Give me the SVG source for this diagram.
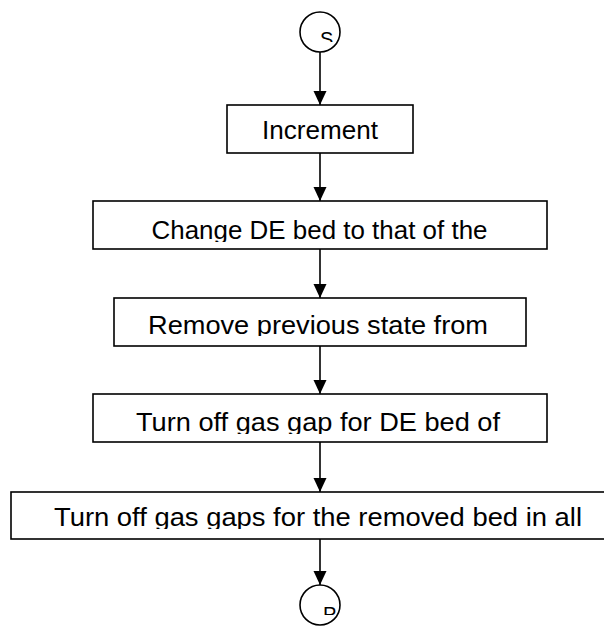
<svg xmlns="http://www.w3.org/2000/svg" width="604" height="628" viewBox="0 0 604 628">
<style>
.box{fill:#fff;stroke:#000;stroke-width:1.6}
.term{fill:#fff;stroke:#000;stroke-width:1.6}
.lbl{font-family:"Liberation Sans",Arial,sans-serif;font-size:26.5px;fill:#000;text-anchor:middle}
.sm{font-family:"Liberation Sans",Arial,sans-serif;font-size:20px;fill:#000}
.edge{stroke:#000;stroke-width:1.6;fill:none;marker-end:url(#arr)}
</style>
<defs>
<marker id="arr" markerWidth="13" markerHeight="14" refX="14" refY="6.5" orient="auto" markerUnits="userSpaceOnUse">
<path d="M0,0 L14,6.5 L0,13 z" fill="#000"/>
</marker>
<clipPath id="cS"><rect x="300" y="14" width="40" height="28"/></clipPath>
<clipPath id="cP"><rect x="300" y="588" width="40" height="27"/></clipPath>
<clipPath id="c2"><rect x="94" y="202" width="452" height="40"/></clipPath>
<clipPath id="c3"><rect x="115" y="299" width="410" height="37"/></clipPath>
<clipPath id="c4"><rect x="94" y="395" width="452" height="39"/></clipPath>
<clipPath id="c5"><rect x="0" y="492" width="604" height="37"/></clipPath>
</defs>
<g id="connectors">
<line class="edge" x1="320" y1="52" x2="320" y2="105"/>
<line class="edge" x1="320" y1="153" x2="320" y2="201"/>
<line class="edge" x1="320" y1="249" x2="320" y2="298"/>
<line class="edge" x1="320" y1="346" x2="320" y2="394"/>
<line class="edge" x1="320" y1="442" x2="320" y2="492"/>
<line class="edge" x1="320" y1="539" x2="320" y2="585"/>
</g>
<g id="start">
<circle class="term" cx="320" cy="32" r="20"/>
<text class="sm" x="320" y="46" clip-path="url(#cS)">S</text>
</g>
<g id="n1">
<rect class="box" x="227" y="105" width="186" height="48"/>
<text class="lbl" x="320" y="139" textLength="116" lengthAdjust="spacingAndGlyphs">Increment</text>
</g>
<g id="n2">
<rect class="box" x="93" y="201" width="454" height="48"/>
<text class="lbl" x="319.5" y="239" textLength="336" lengthAdjust="spacingAndGlyphs" clip-path="url(#c2)">Change DE bed to that of the</text>
</g>
<g id="n3">
<rect class="box" x="114" y="298" width="412" height="48"/>
<text class="lbl" x="318" y="334" textLength="340" lengthAdjust="spacingAndGlyphs" clip-path="url(#c3)">Remove previous state from</text>
</g>
<g id="n4">
<rect class="box" x="93" y="394" width="454" height="48"/>
<text class="lbl" x="318" y="431" textLength="364" lengthAdjust="spacingAndGlyphs" clip-path="url(#c4)">Turn off gas gap for DE bed of</text>
</g>
<g id="n5">
<rect class="box" x="11" y="492" width="620" height="47"/>
<text class="lbl" x="318" y="526" textLength="528" lengthAdjust="spacingAndGlyphs" clip-path="url(#c5)">Turn off gas gaps for the removed bed in all</text>
</g>
<g id="end">
<circle class="term" cx="320" cy="605" r="20"/>
<text class="sm" x="323" y="621" clip-path="url(#cP)">P</text>
</g>
</svg>
